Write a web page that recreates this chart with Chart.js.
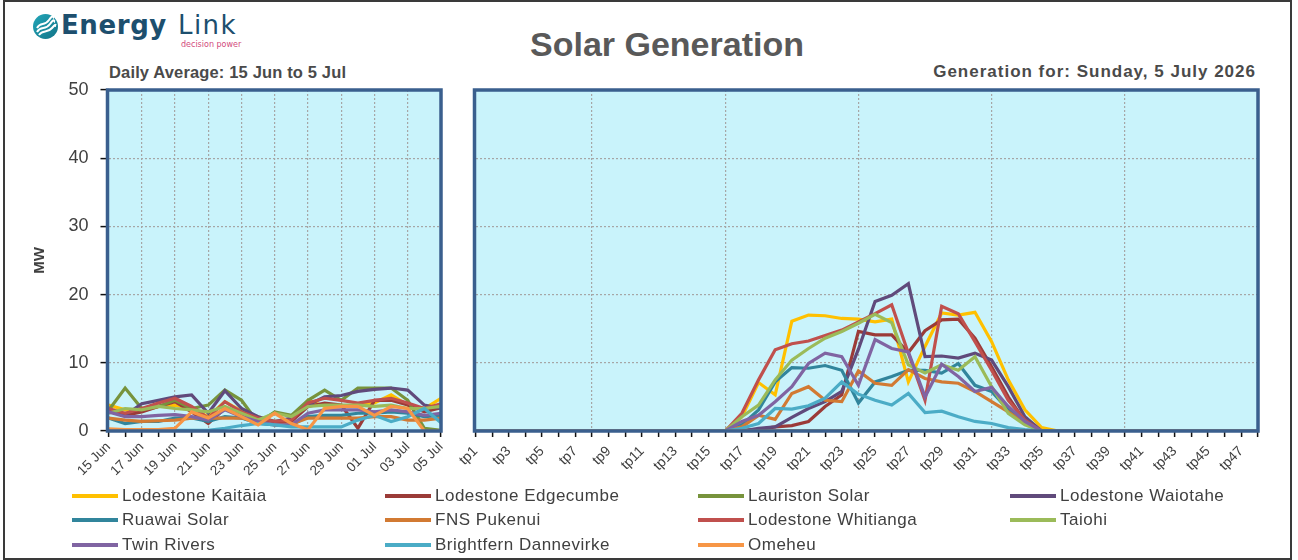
<!DOCTYPE html>
<html>
<head>
<meta charset="utf-8">
<script src="https://cdn.jsdelivr.net/npm/chart.js@4.4.0/dist/chart.umd.min.js"></script>
<style>
  body { margin: 0; width: 1298px; height: 560px; background: #fff; overflow: hidden; position: relative;
         font-family: "Liberation Sans", Arial, sans-serif; }
  #frame { position: absolute; left: 3px; top: 0; width: 1289px; height: 560px; box-sizing: border-box; border: 2px solid #3a3a3a; }
  canvas { position: absolute; left: 0; top: 0; }
  .txt { position: absolute; white-space: nowrap; color: #595959; font-weight: bold; line-height: 1; }
  #title { left: 467px; width: 400px; text-align: center; top: 27px; font-size: 34px; }
  #subLeft { left: 109px; top: 64px; font-size: 16.5px; letter-spacing: 0.15px; color: #4a4a4a; }
  #subRight { right: 42px; top: 63px; font-size: 17px; letter-spacing: 1px; color: #4a4a4a; }
  .logo { position: absolute; white-space: nowrap; line-height: 1; font-family: "DejaVu Sans", sans-serif; color: #1d4f6e; }
  #legend .item { position: absolute; height: 22px; }
  #legend .sw { position: absolute; left: 0; top: 9px; width: 46px; height: 4px; }
  #legend .lb { position: absolute; left: 50px; top: 1px; font-size: 17px; letter-spacing: 0.5px; color: #404040; white-space: nowrap; line-height: 20px; }
</style>
</head>
<body>
<div id="frame"></div>

<svg style="position:absolute;left:32px;top:13px" width="27" height="27" viewBox="0 0 27 27">
  <defs>
    <linearGradient id="lg" x1="0" y1="0" x2="1" y2="1">
      <stop offset="0" stop-color="#22a6b8"/>
      <stop offset="1" stop-color="#137488"/>
    </linearGradient>
  </defs>
  <circle cx="13.5" cy="13.5" r="12.5" fill="url(#lg)"/>
  <path d="M5 15 C9 8, 12 14, 17 7 S21 5, 22 5" stroke="#fff" stroke-width="2" fill="none"/>
  <path d="M5 19 C9 12, 13 18, 18 11 S22 9, 23 9" stroke="#fff" stroke-width="2" fill="none"/>
  <path d="M7 22 C11 16, 15 21, 20 15 S23 13, 24 13" stroke="#fff" stroke-width="2" fill="none"/>
</svg>
<div class="logo" style="left:61px;top:12px;font-size:26px;font-weight:bold;letter-spacing:0.6px;">Energy</div>
<div class="logo" style="left:178px;top:12px;font-size:26px;letter-spacing:1.4px;">Link</div>
<div class="logo" style="left:181px;top:41px;font-size:8px;color:#d24a7c;">decision power</div>

<div class="txt" id="title">Solar Generation</div>
<div class="txt" id="subLeft">Daily Average: 15 Jun to 5 Jul</div>
<div class="txt" id="subRight">Generation for: Sunday, 5 July 2026</div>

<canvas id="dailyChart" width="1298" height="560"></canvas>
<canvas id="dayChart" width="1298" height="560"></canvas>
<div id="legend"></div>

<script>
const dayLabels = ['15 Jun', '16 Jun', '17 Jun', '18 Jun', '19 Jun', '20 Jun', '21 Jun', '22 Jun', '23 Jun', '24 Jun',
  '25 Jun', '26 Jun', '27 Jun', '28 Jun', '29 Jun', '30 Jun', '01 Jul', '02 Jul', '03 Jul', '04 Jul', '05 Jul'];

const tpLabels = ['tp1', 'tp2', 'tp3', 'tp4', 'tp5', 'tp6', 'tp7', 'tp8', 'tp9', 'tp10', 'tp11', 'tp12',
  'tp13', 'tp14', 'tp15', 'tp16', 'tp17', 'tp18', 'tp19', 'tp20', 'tp21', 'tp22', 'tp23', 'tp24',
  'tp25', 'tp26', 'tp27', 'tp28', 'tp29', 'tp30', 'tp31', 'tp32', 'tp33', 'tp34', 'tp35', 'tp36',
  'tp37', 'tp38', 'tp39', 'tp40', 'tp41', 'tp42', 'tp43', 'tp44', 'tp45', 'tp46', 'tp47', 'tp48'];

const yTicks = [0, 10, 20, 30, 40, 50];

const seriesNames = ['Lodestone Kaitāia', 'Lodestone Edgecumbe', 'Lauriston Solar', 'Lodestone Waiotahe',
  'Ruawai Solar', 'FNS Pukenui', 'Lodestone Whitianga', 'Taiohi', 'Twin Rivers', 'Brightfern Dannevirke', 'Omeheu'];
const seriesColors = ['#FFC000', '#9B3B38', '#77933C', '#604A7B', '#31859C', '#D27A33',
  '#C0504D', '#9BBB59', '#8064A2', '#4BACC6', '#F79646'];

// daily averages, 15 Jun - 5 Jul (MW)
const kaitaiaDaily    = [3.8, 3.1, 2.9, 3.6, 3.8, 3.3, 2.1, 4.3, 2.9, 2.1, 1.4, 1.4, 4.5, 3.6, 3.6, 3.8, 4.1, 5.3, 3.8, 3.3, 4.8];
const edgecumbeDaily  = [3.1, 2.3, 2.8, 3.6, 4.3, 2.8, 1.1, 3.3, 2.3, 1.6, 1.1, 1.4, 3.6, 4.1, 3.8, 0.4, 4.5, 4.5, 3.8, 2.8, 3.4];
const lauristonDaily  = [3.0, 6.3, 3.3, 3.6, 4.5, 3.3, 3.8, 6.0, 4.5, 1.2, 2.8, 2.3, 4.5, 6.0, 4.5, 6.3, 6.3, 6.3, 4.5, 0.4, 0.1];
const waiotaheDaily   = [3.0, 2.3, 4.0, 4.5, 5.0, 5.3, 2.6, 5.9, 3.3, 2.1, 1.4, 1.9, 3.8, 5.0, 5.2, 5.8, 6.1, 6.3, 6.0, 3.8, 3.3];
const ruawaiDaily     = [1.9, 1.1, 1.4, 1.4, 1.9, 1.9, 1.4, 2.1, 1.9, 1.1, 0.9, 0.9, 2.1, 2.3, 2.3, 2.6, 2.6, 2.8, 2.6, 2.1, 2.3];
const pukenuiDaily    = [1.9, 1.6, 1.4, 1.5, 1.6, 1.9, 1.9, 1.9, 1.9, 1.4, 0.9, 1.0, 1.9, 1.9, 1.9, 1.9, 2.1, 2.1, 1.6, 1.6, 1.9];
const whitiangaDaily  = [3.3, 2.6, 3.3, 4.1, 4.8, 3.6, 1.9, 4.3, 2.8, 1.9, 1.4, 1.6, 4.1, 4.8, 4.5, 4.1, 4.5, 4.8, 4.1, 3.3, 4.0];
const taiohiDaily     = [2.6, 3.3, 3.1, 3.6, 3.3, 3.1, 2.8, 3.6, 2.6, 1.6, 2.6, 2.1, 3.6, 3.8, 3.8, 3.8, 3.6, 3.8, 3.3, 3.3, 3.6];
const twinRiversDaily = [2.8, 2.1, 2.1, 2.3, 2.4, 2.1, 1.6, 3.1, 2.1, 1.4, 0.9, 0.9, 2.6, 3.1, 3.1, 3.1, 2.8, 3.1, 2.8, 2.3, 2.6];
const brightfernDaily = [0.1, 0.1, 0.1, 0.1, 0.1, 0.1, 0.1, 0.4, 0.8, 1.1, 0.9, 0.6, 0.6, 0.6, 0.6, 1.6, 2.3, 1.4, 2.1, 3.3, 1.2];
const omeheuDaily     = [0.3, 0.2, 0.2, 0.2, 0.4, 2.8, 1.9, 3.3, 2.1, 0.9, 2.6, 1.1, 0.2, 3.3, 3.6, 3.6, 2.3, 3.6, 3.3, 0.0, 0.0];

// trading periods, Sunday 5 July 2026 (MW)
const kaitaiaTp    = [0, 0, 0, 0, 0, 0, 0, 0, 0, 0, 0, 0, 0, 0, 0, 0, 2.1, 7.1, 5.3, 16.1, 17.0, 16.9, 16.5, 16.4,
  16.0, 16.4, 7.2, 12.4, 17.3, 17.0, 17.4, 13.1, 7.5, 3.1, 0.5, 0, 0, 0, 0, 0, 0, 0, 0, 0, 0, 0, 0, 0];
const edgecumbeTp  = [0, 0, 0, 0, 0, 0, 0, 0, 0, 0, 0, 0, 0, 0, 0, 0, 0.1, 0.2, 0.6, 0.8, 1.4, 3.6, 5.3, 14.6,
  14.1, 14.1, 11.5, 14.7, 16.3, 16.4, 13.6, 9.4, 5.0, 1.4, 0, 0, 0, 0, 0, 0, 0, 0, 0, 0, 0, 0, 0, 0];
const lauristonTp  = [0, 0, 0, 0, 0, 0, 0, 0, 0, 0, 0, 0, 0, 0, 0, 0, 0, 0, 0, 0, 0, 0, 0, 0,
  0, 0, 0, 0, 0, 0, 0, 0, 0, 0, 0, 0, 0, 0, 0, 0, 0, 0, 0, 0, 0, 0, 0, 0];
const waiotaheTp   = [0, 0, 0, 0, 0, 0, 0, 0, 0, 0, 0, 0, 0, 0, 0, 0, 0, 0.4, 0.6, 2.0, 3.3, 4.3, 5.8, 12.0,
  19.0, 19.9, 21.6, 10.9, 11.0, 10.7, 11.4, 10.4, 6.5, 2.1, 0, 0, 0, 0, 0, 0, 0, 0, 0, 0, 0, 0, 0, 0];
const ruawaiTp     = [0, 0, 0, 0, 0, 0, 0, 0, 0, 0, 0, 0, 0, 0, 0, 0, 0.9, 3.1, 7.2, 9.3, 9.2, 9.6, 8.9, 4.1,
  7.2, 8.0, 8.9, 8.9, 8.5, 9.9, 6.7, 5.8, 3.1, 1.1, 0, 0, 0, 0, 0, 0, 0, 0, 0, 0, 0, 0, 0, 0];
const pukenuiTp    = [0, 0, 0, 0, 0, 0, 0, 0, 0, 0, 0, 0, 0, 0, 0, 0, 0.6, 2.3, 1.7, 5.5, 6.5, 4.5, 4.3, 8.8,
  7.0, 6.7, 9.0, 7.7, 7.2, 7.0, 5.8, 4.3, 2.8, 1.1, 0, 0, 0, 0, 0, 0, 0, 0, 0, 0, 0, 0, 0, 0];
const whitiangaTp  = [0, 0, 0, 0, 0, 0, 0, 0, 0, 0, 0, 0, 0, 0, 0, 0, 2.6, 7.5, 11.9, 12.8, 13.2, 14.0, 14.8, 16.0,
  17.2, 18.5, 11.4, 4.5, 18.3, 17.2, 13.1, 8.9, 4.5, 1.6, 0, 0, 0, 0, 0, 0, 0, 0, 0, 0, 0, 0, 0, 0];
const taiohiTp     = [0, 0, 0, 0, 0, 0, 0, 0, 0, 0, 0, 0, 0, 0, 0, 0, 2.1, 3.8, 7.5, 10.4, 12.1, 13.6, 14.6, 15.8,
  17.1, 15.9, 9.7, 8.5, 9.7, 8.9, 10.9, 6.5, 2.6, 0.9, 0, 0, 0, 0, 0, 0, 0, 0, 0, 0, 0, 0, 0, 0];
const twinRiversTp = [0, 0, 0, 0, 0, 0, 0, 0, 0, 0, 0, 0, 0, 0, 0, 0, 1.4, 2.3, 4.3, 6.5, 9.9, 11.4, 10.9, 6.7,
  13.4, 12.1, 11.6, 5.0, 9.8, 8.0, 5.8, 6.4, 3.6, 1.4, 0, 0, 0, 0, 0, 0, 0, 0, 0, 0, 0, 0, 0, 0];
const brightfernTp = [0, 0, 0, 0, 0, 0, 0, 0, 0, 0, 0, 0, 0, 0, 0, 0, 0.4, 1.1, 3.3, 3.2, 3.7, 4.8, 7.2, 5.4,
  4.5, 3.8, 5.5, 2.7, 2.9, 2.1, 1.4, 1.1, 0.5, 0.2, 0, 0, 0, 0, 0, 0, 0, 0, 0, 0, 0, 0, 0, 0];
const omeheuTp     = [0, 0, 0, 0, 0, 0, 0, 0, 0, 0, 0, 0, 0, 0, 0, 0, 0, 0, 0, 0, 0, 0, 0, 0,
  0, 0, 0, 0, 0, 0, 0, 0, 0, 0, 0, 0, 0, 0, 0, 0, 0, 0, 0, 0, 0, 0, 0, 0];

const dailySeries = [kaitaiaDaily, edgecumbeDaily, lauristonDaily, waiotaheDaily, ruawaiDaily, pukenuiDaily,
  whitiangaDaily, taiohiDaily, twinRiversDaily, brightfernDaily, omeheuDaily];
const tpSeries = [kaitaiaTp, edgecumbeTp, lauristonTp, waiotaheTp, ruawaiTp, pukenuiTp,
  whitiangaTp, taiohiTp, twinRiversTp, brightfernTp, omeheuTp];

const GRID = '#A6A6A6';
const TEXT = '#404040';
const FONT = '"Liberation Sans", Arial, sans-serif';

// plot area fill and thick blue frame
const plotFrame = {
  id: 'plotFrame',
  beforeDraw(chart) {
    const a = chart.chartArea, c = chart.ctx;
    c.save();
    c.fillStyle = '#C9F3FB';
    c.fillRect(a.left, a.top, a.right - a.left, a.bottom - a.top);
    c.restore();
  },
  afterDatasetsDraw(chart) {
    const a = chart.chartArea, c = chart.ctx;
    c.save();
    c.strokeStyle = '#3A5F8E';
    c.lineWidth = 3.5;
    c.strokeRect(a.left - 1, a.top, a.right - a.left + 1, a.bottom - a.top);
    c.restore();
  }
};

function makeDatasets(list) {
  return list.map((d, i) => ({
    label: seriesNames[i],
    data: d,
    borderColor: seriesColors[i],
    backgroundColor: seriesColors[i],
    borderWidth: 3.2,
    pointRadius: 0,
    tension: 0,
    fill: false,
    order: list.length - i
  }));
}

function makeChart(id, labels, series, o) {
  return new Chart(document.getElementById(id), {
    type: 'line',
    data: { labels: labels, datasets: makeDatasets(series) },
    options: {
      responsive: false,
      animation: false,
      layout: { padding: { left: 0, top: 90, right: o.padRight, bottom: 0 } },
      plugins: { legend: { display: false }, tooltip: { enabled: false } },
      scales: {
        x: {
          offset: false,
          grid: {
            color: o.xGrid,
            lineWidth: 1.2,
            tickColor: '#111',
            tickLength: 6,
            tickWidth: 1.5
          },
          border: { display: false, dash: [2, 2] },
          ticks: {
            autoSkip: false,
            maxRotation: 45,
            minRotation: 45,
            padding: o.xPad,
            color: TEXT,
            font: { family: FONT, size: o.xFont },
            callback: function (v, i) { return i % 2 === 0 ? this.getLabelForValue(v) : ''; }
          },
          afterFit: s => { s.height = 129; }
        },
        y: {
          min: yTicks[0],
          max: yTicks[yTicks.length - 1],
          afterBuildTicks: s => { s.ticks = yTicks.map(v => ({ value: v })); },
          grid: {
            color: c => (c.tick && c.tick.value > 0 && c.tick.value < 50) ? GRID : 'transparent',
            lineWidth: 1.2,
            drawTicks: o.yLabels,
            tickColor: '#111',
            tickLength: 8,
            tickWidth: 1.5
          },
          border: { display: false, dash: [2, 2] },
          ticks: {
            display: o.yLabels,
            padding: 12,
            color: TEXT,
            font: { family: FONT, size: 18 }
          },
          title: {
            display: o.yLabels,
            text: 'MW',
            color: TEXT,
            font: { family: FONT, size: 15, weight: 'bold' },
            padding: { top: 31, bottom: 0 }
          },
          afterFit: s => { s.width = o.left; }
        }
      }
    },
    plugins: [plotFrame]
  });
}

makeChart('dailyChart', dayLabels, dailySeries, {
  left: 108.5,
  padRight: 1298 - 441,
  yLabels: true,
  xPad: 2,
  xFont: 13.5,
  xGrid: c => (c.index % 2 === 0 && c.index > 0 && c.index < dayLabels.length - 1) ? GRID : 'transparent'
});

makeChart('dayChart', tpLabels, tpSeries, {
  left: 475.5,
  padRight: 1298 - 1258,
  yLabels: false,
  xPad: 6,
  xFont: 14,
  xGrid: c => (c.index % 8 === 7 && c.index < tpLabels.length - 1) ? GRID : 'transparent'
});

// legend: 4 columns, 3 rows
const legendCols = [72, 385, 698, 1010];
const legendRows = [485, 509, 534];
const legend = document.getElementById('legend');
seriesNames.forEach((name, i) => {
  const item = document.createElement('div');
  item.className = 'item';
  item.style.left = legendCols[i % 4] + 'px';
  item.style.top = legendRows[Math.floor(i / 4)] + 'px';
  item.innerHTML = '<div class="sw" style="background:' + seriesColors[i] + '"></div><div class="lb">' + name + '</div>';
  legend.appendChild(item);
});
</script>
</body>
</html>
